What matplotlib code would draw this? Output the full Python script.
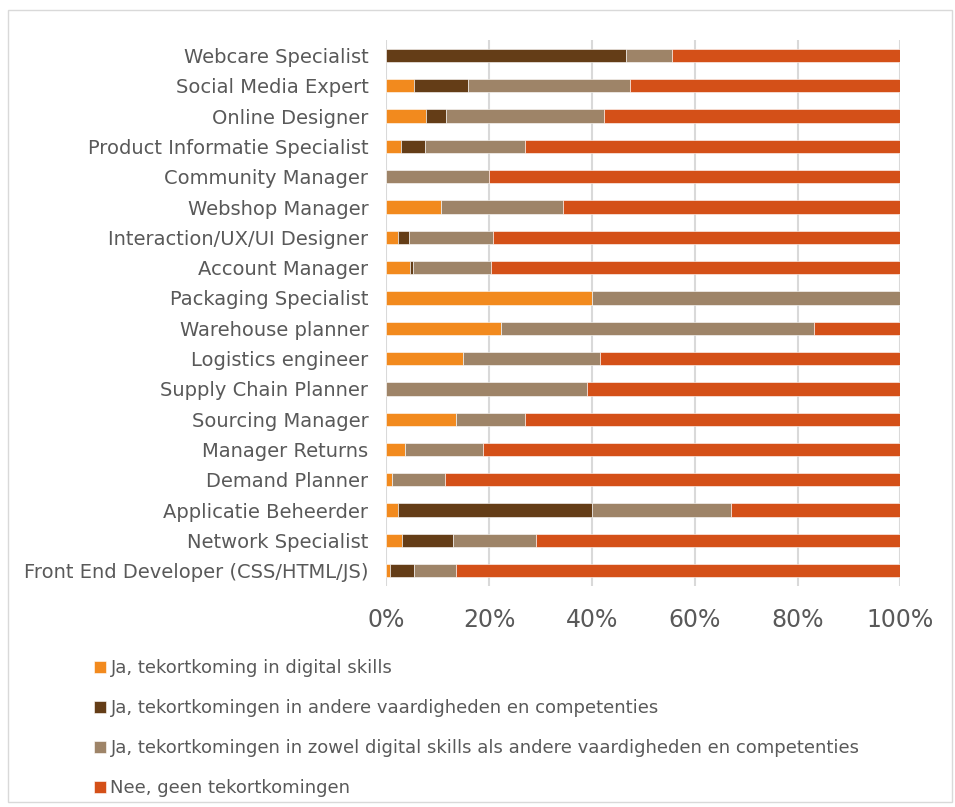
import matplotlib.pyplot as plt
import numpy as np
from matplotlib.patches import Rectangle

plt.rcParams['font.family'] = ['DejaVu Sans']

functions = [
    'Webcare Specialist',
    'Social Media Expert',
    'Online Designer',
    'Product Informatie Specialist',
    'Community Manager',
    'Webshop Manager',
    'Interaction/UX/UI Designer',
    'Account Manager',
    'Packaging Specialist',
    'Warehouse planner',
    'Logistics engineer',
    'Supply Chain Planner',
    'Sourcing Manager',
    'Manager Returns',
    'Demand Planner',
    'Applicatie Beheerder',
    'Network Specialist',
    'Front End Developer (CSS/HTML/JS)',
]

# shares in %, one list per answer
digital = [0, 5.3, 7.7, 2.9, 0, 10.7, 2.2, 4.6, 40.0, 22.2, 14.8, 0, 13.5, 3.7, 1.0, 2.2, 3.1, 0.6]
other = [46.7, 10.5, 3.8, 4.5, 0, 0, 2.2, 0.6, 0, 0, 0, 0, 0, 0, 0, 37.8, 9.8, 4.7]
both = [8.9, 31.6, 30.8, 19.5, 20.0, 23.6, 16.3, 15.1, 60.0, 61.1, 26.8, 39.1, 13.4, 15.0, 10.3, 27.0, 16.2, 8.2]
none = [44.4, 52.6, 57.7, 73.1, 80.0, 65.7, 79.3, 79.7, 0, 16.7, 58.4, 60.9, 73.1, 81.3, 88.7, 33.0, 70.9, 86.5]

series = [
    ('Ja, tekortkoming in digital skills', digital, '#F28A1E'),
    ('Ja, tekortkomingen in andere vaardigheden en competenties', other, '#643D17'),
    ('Ja, tekortkomingen in zowel digital skills als andere vaardigheden en competenties', both, '#9E8468'),
    ('Nee, geen tekortkomingen', none, '#D45018'),
]

txt = '#595959'

fig = plt.figure(figsize=(9.55, 8.07), dpi=100)
ax = fig.add_axes([0.4047, 0.274, 0.538, 0.676])

y = np.arange(len(functions))
left = np.zeros(len(functions))
for label, vals, col in series:
    vals = np.array(vals)
    ax.barh(y, vals, left=left, height=0.44, color=col, label=label,
            edgecolor='white', linewidth=0.4, zorder=3)
    left += vals

ax.set_xlim(0, 100)
ax.set_ylim(len(functions) - 0.5, -0.5)
ax.set_yticks(y)
ax.set_yticklabels(functions, fontsize=14, color=txt)
ax.set_xticks(np.arange(0, 101, 20))
ax.set_xticklabels([f'{v}%' for v in range(0, 101, 20)], fontsize=17, color=txt)
ax.tick_params(axis='both', length=0)
ax.tick_params(axis='y', pad=13)
ax.tick_params(axis='x', pad=16)
ax.grid(axis='x', color='#D9D9D9', linewidth=1.5, zorder=0)
for s in ax.spines.values():
    s.set_visible(False)

fig.legend(loc='upper left', bbox_to_anchor=(87 / 955, 1 - 652 / 807),
           frameon=False, fontsize=13, labelcolor=txt,
           handlelength=0.65, handleheight=0.65, handletextpad=0.25,
           labelspacing=1.22, borderaxespad=0)

# light frame around the chart
fig.patches.append(Rectangle((8 / 955, 5 / 807), 944 / 955, 792 / 807,
                             transform=fig.transFigure, fill=False,
                             edgecolor='#D9D9D9', linewidth=1))

plt.savefig('out.png')
